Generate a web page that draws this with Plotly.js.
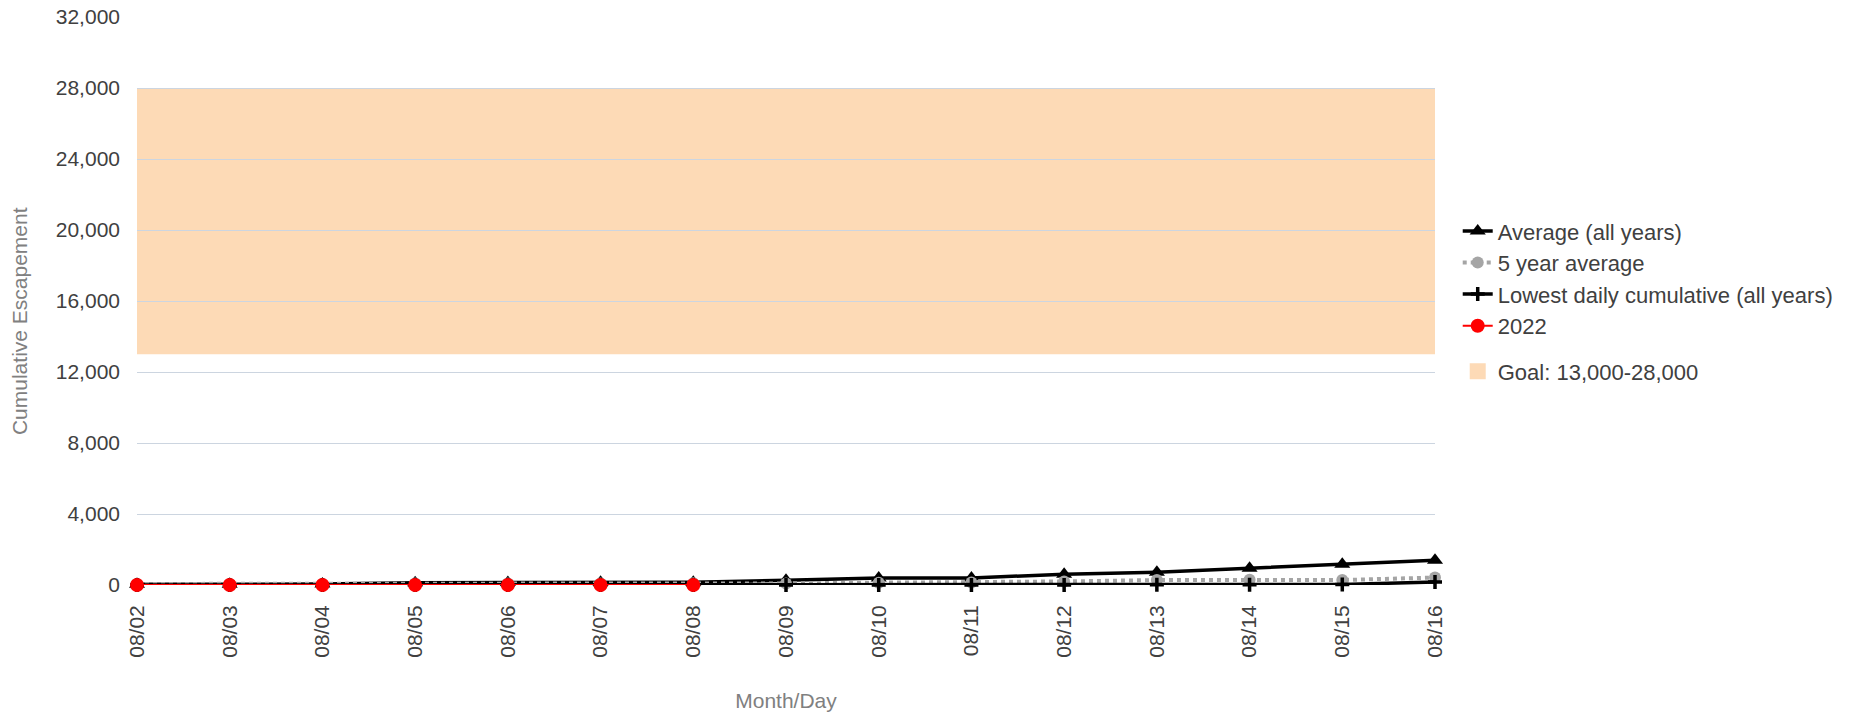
<!DOCTYPE html>
<html>
<head>
<meta charset="utf-8">
<script src="https://cdn.plot.ly/plotly-3.0.1.min.js"></script>
<style>
  html, body { margin: 0; padding: 0; background: #fff; }
  #chart { width: 1857px; height: 716px; }
</style>
</head>
<body>
<div id="chart"></div>
<script>
const days = ["08/02","08/03","08/04","08/05","08/06","08/07","08/08","08/09","08/10","08/11","08/12","08/13","08/14","08/15","08/16"];
const avgAll = [40, 40, 50, 130, 140, 150, 160, 270, 390, 400, 600, 720, 940, 1170, 1400];
const fiveYear = [60, 60, 60, 80, 80, 90, 100, 90, 130, 140, 200, 280, 300, 280, 420];
const lowest = [0, 0, 0, 0, 0, 0, 0, 0, 0, 0, 0, 10, 20, 30, 170];
const y2022 = [0, 0, 0, 0, 0, 0, 0];
const goalLow = 13000;
const goalHigh = 28000;
const goalLabel = "Goal: 13,000-28,000";
const yTitle = "Cumulative Escapement";
const xTitle = "Month/Day";

const FONT = "'Liberation Sans', Arial, sans-serif";

const traces = [
  {
    name: "Average (all years)", x: days, y: avgAll, type: "scatter", mode: "lines+markers",
    line: {color: "#000000", width: 3.5},
    marker: {symbol: "triangle-up", size: 14, color: "#000000"},
    legendgroup: "a", cliponaxis: false
  },
  {
    name: "5 year average", x: days, y: fiveYear, type: "scatter", mode: "lines+markers",
    line: {color: "#A5A5A5", width: 4, dash: "dot"},
    marker: {symbol: "circle", size: 12, color: "#A5A5A5"},
    legendgroup: "a", cliponaxis: false
  },
  {
    name: "Lowest daily cumulative (all years)", x: days, y: lowest, type: "scatter", mode: "lines+markers",
    line: {color: "#000000", width: 3.5},
    marker: {symbol: "cross-thin", size: 10, color: "#000000", line: {color: "#000000", width: 3.5}},
    legendgroup: "a", cliponaxis: false
  },
  {
    name: "2022", x: days.slice(0, y2022.length), y: y2022, type: "scatter", mode: "lines+markers",
    line: {color: "#FF0000", width: 2},
    marker: {symbol: "circle", size: 14, color: "#FF0000"},
    legendgroup: "a", cliponaxis: false
  },
  {
    name: goalLabel, x: [null], y: [null], type: "scatter", mode: "markers",
    marker: {symbol: "square", size: 20, color: "#FDDAB6"},
    legendgroup: "b"
  }
];

const layout = {
  width: 1857, height: 716,
  margin: {l: 137, r: 422, t: 17, b: 131, pad: 0},
  paper_bgcolor: "#ffffff", plot_bgcolor: "#ffffff",
  font: {family: FONT, size: 21, color: "#404040"},
  showlegend: true,
  legend: {
    x: 1.0175, xanchor: "left", y: 0.660, yanchor: "top",
    font: {family: FONT, size: 22, color: "#404040"},
    traceorder: "grouped", tracegroupgap: 14,
    itemwidth: 30, bgcolor: "rgba(0,0,0,0)"
  },
  xaxis: {
    type: "category", range: [0, days.length - 1],
    tickangle: -90, showgrid: false, zeroline: false, showline: false,
    ticks: "", ticklabelstandoff: 15,
    tickfont: {family: FONT, size: 21, color: "#404040"},
    title: {text: xTitle, font: {family: FONT, size: 21, color: "#808080"}, standoff: 36}
  },
  yaxis: {
    range: [0, 32000], dtick: 4000, tick0: 0, tickformat: ",d",
    showgrid: true, gridcolor: "#CCD5E0", gridwidth: 1,
    zeroline: false, showline: false, ticks: "", ticklabelstandoff: 16,
    tickfont: {family: FONT, size: 21, color: "#404040"}
  },
  annotations: [
    {
      text: yTitle, xref: "paper", yref: "paper", x: -0.09, y: 0.465,
      xanchor: "center", yanchor: "middle", textangle: -90, showarrow: false,
      font: {family: FONT, size: 21, color: "#808080"}
    }
  ],
  shapes: [
    {
      type: "rect", xref: "paper", yref: "y", x0: 0, x1: 1, y0: goalLow, y1: goalHigh,
      fillcolor: "#FDDAB6", line: {width: 0}, layer: "below"
    }
  ]
};

Plotly.newPlot("chart", traces, layout, {displayModeBar: false, staticPlot: true});
</script>
</body>
</html>
